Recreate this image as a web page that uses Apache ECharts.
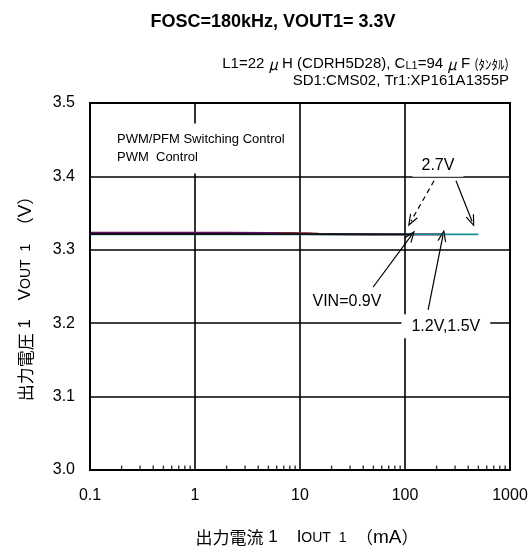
<!DOCTYPE html>
<html>
<head>
<meta charset="utf-8">
<script src="https://cdn.jsdelivr.net/npm/echarts@6/dist/echarts.min.js"></script>
<style>
  html, body { margin: 0; padding: 0; background: #fff; }
  #chart { width: 531px; height: 552px; }
</style>
</head>
<body>
<div id="chart"></div>
<script>
// Output voltage vs. output current, one curve per input voltage
const xTicks = [0.1, 1, 10, 100, 1000];
const yTicks = [3.0, 3.1, 3.2, 3.3, 3.4, 3.5];
const minorTicks = [0.2, 0.3, 0.4, 0.5, 0.6, 0.7, 0.8, 0.9,
                    2, 3, 4, 5, 6, 7, 8, 9,
                    20, 30, 40, 50, 60, 70, 80, 90,
                    200, 300, 400, 500, 600, 700, 800, 900];

// VIN = 2.7V
const iout27 = [0.1, 0.2, 0.5, 1, 2, 5, 10, 20, 50, 100, 200, 300, 500];
const vout27 = [3.3212, 3.3212, 3.3212, 3.3212, 3.3212, 3.3211, 3.3211, 3.3211, 3.3210, 3.3210, 3.3210, 3.3210, 3.3210];
// VIN = 1.5V
const iout15 = [0.1, 0.2, 0.5, 1, 2, 5, 8, 12, 15, 20, 50, 100, 200, 230];
const vout15 = [3.3228, 3.3228, 3.3229, 3.3229, 3.3230, 3.3231, 3.3231, 3.3227, 3.3219, 3.3214, 3.3212, 3.3211, 3.3210, 3.3210];
// VIN = 1.2V
const iout12 = [0.1, 0.2, 0.5, 1, 2, 5, 7, 10, 20, 50, 100, 200, 230];
const vout12 = [3.3234, 3.3234, 3.3234, 3.3234, 3.3233, 3.3231, 3.3223, 3.3215, 3.3213, 3.3212, 3.3211, 3.3210, 3.3210];
// VIN = 0.9V
const iout09 = [0.1, 0.2, 0.5, 1, 2, 5, 10, 20, 50, 100, 118];
const vout09 = [3.3215, 3.3215, 3.3215, 3.3215, 3.3215, 3.3214, 3.3213, 3.3212, 3.3211, 3.3210, 3.3209];

const pairs = (xs, ys) => xs.map((x, i) => [x, ys[i]]);

const sansFont = '"Liberation Sans", Arial, sans-serif';
const cjkFont = '"Noto Sans CJK JP", "Liberation Sans", sans-serif';

// open chevron arrow head, tip pointing up
const chevron = 'path://M5,0 L10,12 L8.6,12 L5,3.2 L1.4,12 L0,12 Z';

const chart = echarts.init(document.getElementById('chart'), null, { renderer: 'canvas' });

const lineSeries = (name, data, color, z) => ({
  name, type: 'line', data, z,
  showSymbol: false, symbol: 'none',
  lineStyle: { color, width: 1.8 },
  animation: false, silent: true
});

const annoLabel = (text, x, y, extra) => ({
  coord: [x, y],
  symbol: 'circle', symbolSize: 0,
  label: Object.assign({
    show: true, position: 'inside', formatter: text,
    color: '#000', fontFamily: sansFont, fontSize: 16,
    backgroundColor: '#fff'
  }, extra || {})
});

const arrow = (x1, y1, x2, y2, dashed) => [
  { coord: [x1, y1], lineStyle: { color: '#000', width: 1.2, type: dashed ? [5, 4] : 'solid' } },
  { coord: [x2, y2] }
];

const nameRich = {
  c: { fontFamily: cjkFont, fontSize: 17, color: '#000' },
  l: { fontFamily: sansFont, fontSize: 17, color: '#000' },
  m: { fontFamily: sansFont, fontSize: 19, color: '#000' },
  s: { fontFamily: sansFont, fontSize: 14, color: '#000', padding: [2, 0, 0, 0] }
};

const option = {
  backgroundColor: '#fff',
  animation: false,
  grid: { left: 90, right: 21, top: 103, bottom: 77, show: true, borderColor: '#000', borderWidth: 2, z: 5 },
  xAxis: {
    type: 'log', logBase: 10, min: xTicks[0], max: xTicks[xTicks.length - 1],
    axisLine: { show: true, lineStyle: { color: '#000', width: 2 } },
    axisTick: { show: false },
    splitLine: { show: true, lineStyle: { color: '#000', width: 1.6 } },
    axisLabel: {
      color: '#000', fontFamily: sansFont, fontSize: 16, margin: 18,
      formatter: v => String(v)
    },
    name: '{c|出力電流}{l| 1    I}{s|OUT  1}{l|  }{c|（}{m|mA}{c|）}',
    nameLocation: 'middle', nameGap: 58,
    nameTextStyle: { rich: nameRich, padding: [0, 0, 0, 14] }
  },
  yAxis: {
    type: 'value', min: yTicks[0], max: yTicks[yTicks.length - 1], interval: 0.1,
    axisLine: { show: true, lineStyle: { color: '#000', width: 2 } },
    axisTick: { show: false },
    splitLine: { show: true, lineStyle: { color: '#000', width: 1.6 } },
    axisLabel: {
      color: '#000', fontFamily: sansFont, fontSize: 16, margin: 15,
      formatter: v => v.toFixed(1)
    },
    name: '{c|出力電圧}{l| 1    V}{s|OUT  1}{l|  }{c|（}{m|V}{c|）}',
    nameLocation: 'middle', nameGap: 55, nameRotate: 90,
    nameTextStyle: { rich: nameRich, padding: [0, 16, 0, 0] }
  },
  graphic: [
    {
      type: 'text', x: 273, y: 22,
      style: {
        text: 'FOSC=180kHz, VOUT1= 3.3V',
        font: 'bold 18px ' + sansFont, fill: '#000',
        textAlign: 'center', textVerticalAlign: 'middle'
      }
    },
    {
      type: 'text', x: 509, y: 64,
      style: {
        text: '{n|L1=22 }{u|μ}{n| H (CDRH5D28), C}{sb|L1}{n|=94 }{u|μ}{n| F }{k|(ﾀﾝﾀﾙ)}',
        textAlign: 'right', textVerticalAlign: 'middle',
        rich: {
          n: { fontFamily: sansFont, fontSize: 15, fill: '#000' },
          u: { fontFamily: cjkFont, fontSize: 15, fontStyle: 'italic', fill: '#000' },
          sb: { fontFamily: sansFont, fontSize: 11, fill: '#000', padding: [3, 0, 0, 0] },
          k: { fontFamily: cjkFont, fontSize: 13, fill: '#000' }
        }
      }
    },
    {
      type: 'text', x: 509, y: 81,
      style: {
        text: 'SD1:CMS02, Tr1:XP161A1355P',
        font: '15px ' + sansFont, fill: '#000',
        textAlign: 'right', textVerticalAlign: 'middle'
      }
    }
  ],
  series: [
    lineSeries('VIN=1.5V', pairs(iout15, vout15), '#8b2323', 2),
    lineSeries('VIN=1.2V', pairs(iout12, vout12), '#6a0a6a', 3),
    lineSeries('VIN=2.7V', pairs(iout27, vout27), '#178f8f', 4),
    Object.assign(lineSeries('VIN=0.9V', pairs(iout09, vout09), '#111', 6), {
      markLine: {
        silent: true, animation: false,
        symbol: ['none', chevron], symbolSize: [9, 12],
        label: { show: false },
        data: [
          arrow(49.6, 3.249, 115, 3.3196, false),
          arrow(166, 3.218, 230, 3.3196, false),
          arrow(189, 3.394, 114, 3.339, true),
          arrow(306, 3.394, 435, 3.339, false)
        ]
      },
      markPoint: {
        silent: true, animation: false,
        data: [
          annoLabel('VIN=0.9V', 28, 3.229, { backgroundColor: 'transparent' }),
          annoLabel('1.2V,1.5V', 245, 3.196, { padding: [4, 10, 4, 10] }),
          annoLabel('2.7V', 206, 3.4145, { padding: [3, 9, 3, 9] }),
          annoLabel('PWM/PFM Switching Control\nPWM  Control', 0.173, 3.438, {
            align: 'left', verticalAlign: 'middle', fontSize: 13, lineHeight: 18,
            padding: [6, 6, 8, 2]
          })
        ]
      }
    }),
    {
      name: 'minor ticks', type: 'scatter', z: 7,
      data: minorTicks.map(v => [v, 3.0]),
      symbol: 'rect', symbolSize: [1.4, 4.5], symbolOffset: [0, -2.2],
      itemStyle: { color: '#000' },
      silent: true, animation: false
    }
  ]
};

chart.setOption(option);
</script>
</body>
</html>
